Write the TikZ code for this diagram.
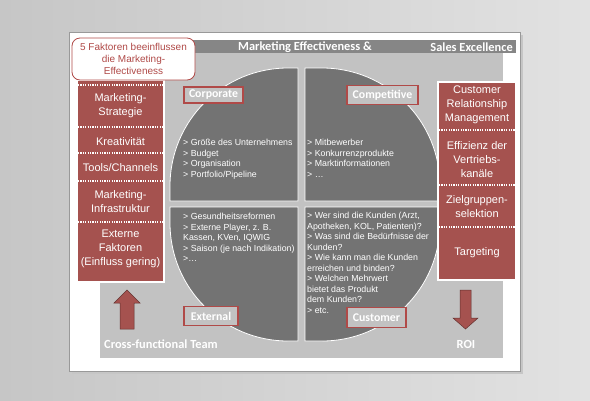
\documentclass[tikz,border=0pt]{standalone}
\usepackage{fontspec}
\setmainfont{Liberation Sans}
\newfontfamily\headfont{Carlito}
\definecolor{boxred}{HTML}{A5524F}
\definecolor{linered}{HTML}{B04A48}
\definecolor{quadgray}{HTML}{737373}
\definecolor{panelgray}{HTML}{C2C2C2}
\definecolor{bargray}{HTML}{868686}
\definecolor{bgleft}{HTML}{C6C6C6}
\definecolor{bgright}{HTML}{E2E2E2}

\begin{document}
\begin{tikzpicture}[x=1pt, y=-1pt,
    sep/.style={white, line width=1.2pt, dash pattern=on 1.2pt off 1.2pt},
    coltext/.style={text=white, align=center, inner sep=0pt, font=\fontsize{11}{14}\selectfont},
    quad/.style={fill=quadgray, draw=white, line width=0.8pt},
    quadtext/.style={text=white, align=left, anchor=north west, inner sep=0pt, font=\fontsize{8.8}{10.5}\selectfont},
    tag/.style={draw=linered, line width=1.5pt, fill=panelgray, text=white, inner sep=0pt, font=\headfont\bfseries\fontsize{11.8}{12}\selectfont},
    headtext/.style={text=white, inner sep=0pt, font=\headfont\bfseries\fontsize{12.4}{13}\selectfont},
    blockarrow/.style={fill=boxred, draw=boxred!60!black, line width=0.5pt}]
    \useasboundingbox (0, 0) rectangle (590, 400);
    \shade[left color=bgleft, right color=bgright] (0, 0) rectangle (590, 400);
    \fill[gray!45] (72, 35) rectangle (523, 374);
    \filldraw[fill=white, draw=gray!80, line width=0.6pt] (69, 32) rectangle (520, 371);
    \fill[panelgray] (100, 53) rectangle (503, 358);
    \fill[bargray] (100, 40) rectangle (516, 53);
    \node[headtext, anchor=west] (title) at (238, 47) {Marketing Effectiveness \&};
    \node[headtext, anchor=east] (sales) at (513, 47) {Sales Excellence};

    \draw[quad] (298, 201) -- (170, 201) -- (170, 186) arc[start angle=180, end angle=270, radius=118] -- (298, 68) -- cycle;
    \draw[quad] (305, 201) -- (305, 68) -- (322, 68) arc[start angle=270, end angle=360, radius=118] -- (440, 201) -- cycle;
    \draw[quad] (298, 207) -- (170, 207) -- (170, 223) arc[start angle=180, end angle=90, radius=118] -- (298, 341) -- cycle;
    \draw[quad] (305, 207) -- (440, 207) -- (440, 223) arc[start angle=0, end angle=90, radius=118] -- (305, 341) -- cycle;

    \node[quadtext] (corptext) at (183, 139) {> Größe des Unternehmens\\> Budget\\> Organisation\\> Portfolio/Pipeline};
    \node[quadtext] (comptext) at (307, 139) {> Mitbewerber\\> Konkurrenzprodukte\\> Marktinformationen\\> …};
    \node[quadtext] (exttext) at (183, 213) {> Gesundheitsreformen\\> Externe Player, z. B.\\Kassen, KVen, IQWIG\\> Saison (je nach Indikation)\\>…};
    \node[quadtext] (custtext) at (307, 212) {> Wer sind die Kunden (Arzt,\\Apotheken, KOL, Patienten)?\\> Was sind die Bedürfnisse der\\Kunden?\\> Wie kann man die Kunden\\erreichen und binden?\\> Welchen Mehrwert\\bietet das Produkt\\dem Kunden?\\> etc.};

    \node[tag, minimum width=59pt, minimum height=16pt] (corporate) at (213.5, 95) {Corporate};
    \node[tag, minimum width=71pt, minimum height=19pt] (competitive) at (382.5, 95) {Competitive};
    \node[tag, minimum width=54pt, minimum height=19pt] (external) at (211, 316) {External};
    \node[tag, minimum width=59pt, minimum height=20pt] (customer) at (376.5, 317.5) {Customer};

    \filldraw[fill=boxred, draw=white, line width=1.5pt] (77, 80) rectangle (164, 282);
    \foreach \y in {85, 127, 153, 181, 222}
        \draw[sep] (78, \y) -- (163, \y);
    \node[coltext] (strategie) at (120.5, 106) {Marketing-\\Strategie};
    \node[coltext] (kreativ) at (120.5, 142) {Kreativität};
    \node[coltext] (tools) at (120.5, 168) {Tools/Channels};
    \node[coltext] (infra) at (120.5, 202) {Marketing-\\Infrastruktur};
    \node[coltext] (extern) at (120.5, 249) {Externe\\Faktoren\\(Einfluss gering)};

    \filldraw[fill=boxred, draw=white, line width=1.5pt] (438, 82) rectangle (516, 280);
    \foreach \y in {130, 185, 227}
        \draw[sep] (439, \y) -- (515, \y);
    \node[coltext] (crm) at (477, 104.5) {Customer\\Relationship\\Management};
    \node[coltext] (effizienz) at (477, 160) {Effizienz der\\Vertriebs-\\kanäle};
    \node[coltext] (zielgruppe) at (477, 206.5) {Zielgruppen-\\selektion};
    \node[coltext] (targeting) at (477, 253) {Targeting};

    \node[draw=linered, fill=white, line width=0.8pt, rounded corners=8pt, minimum width=123pt, minimum height=42pt, align=center, text=linered, inner sep=0pt, font=\fontsize{10}{12}\selectfont] (factors) at (133.5, 59) {5 Faktoren beeinflussen\\die Marketing-\\Effectiveness};

    \draw[blockarrow] (127, 290) -- (140, 303) -- (134, 303) -- (134, 329) -- (120, 329) -- (120, 303) -- (114, 303) -- cycle;
    \draw[blockarrow] (460, 290) -- (471, 290) -- (471, 318) -- (478, 318) -- (465.5, 329) -- (453, 318) -- (460, 318) -- cycle;
    \node[headtext, anchor=west] (team) at (104, 344) {Cross-functional Team};
    \node[headtext] (roi) at (466, 344) {ROI};
\end{tikzpicture}
\end{document}
